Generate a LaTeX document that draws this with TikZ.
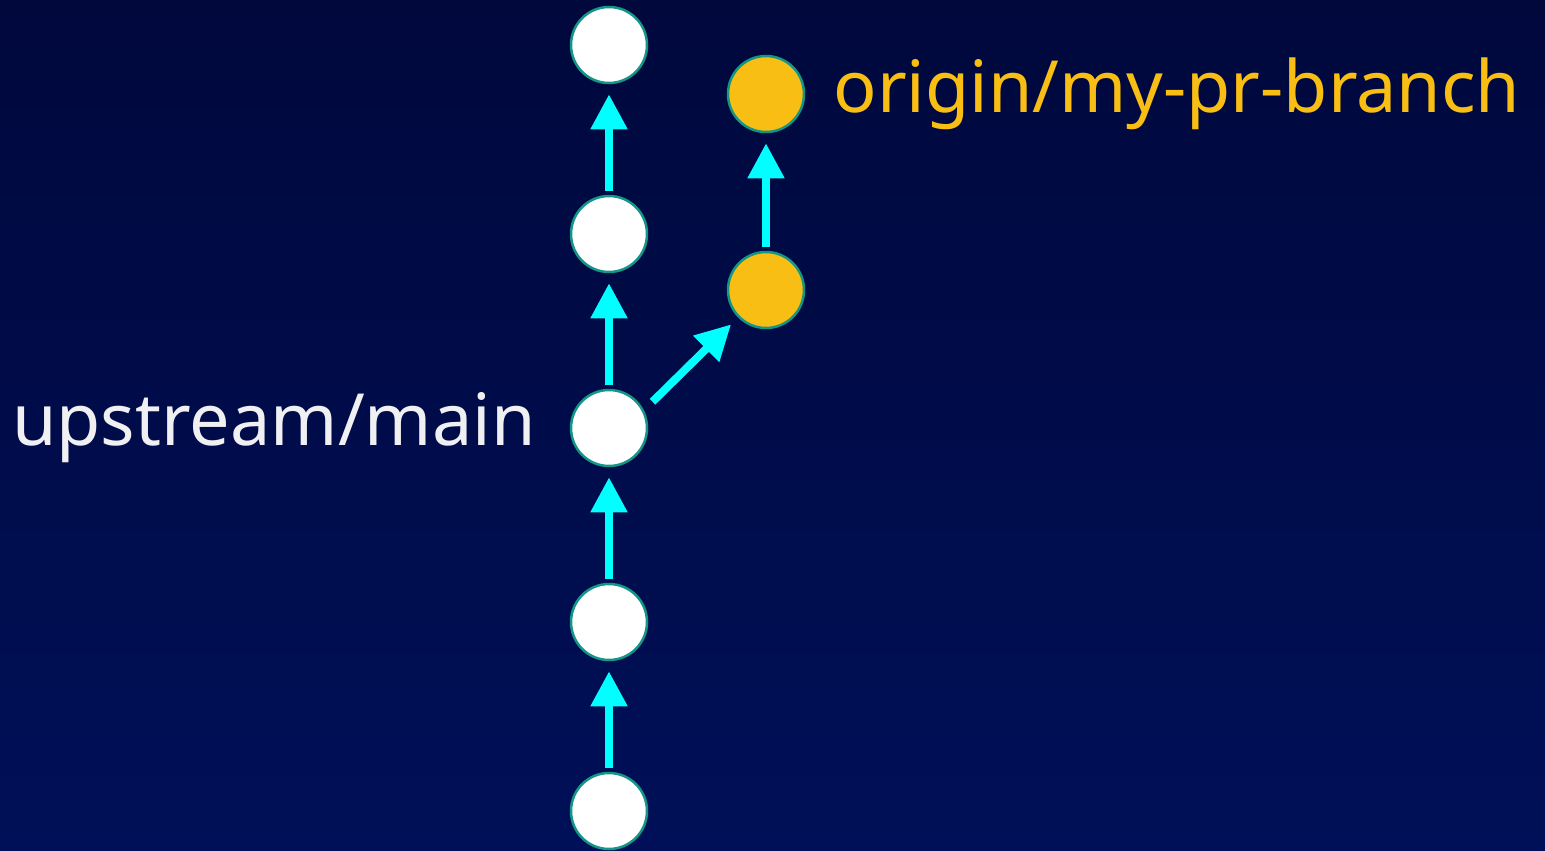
\documentclass[tikz,border=0pt]{standalone}
\usepackage{fontspec}
\setmainfont{Noto Sans}
\usepackage{tikz}
\usetikzlibrary{arrows.meta, positioning}

\definecolor{bgtop}{RGB}{0,8,60}
\definecolor{bgbottom}{RGB}{0,16,88}
\definecolor{ring}{RGB}{20,150,135}
\definecolor{commitorange}{RGB}{249,190,19}
\definecolor{arrowcyan}{RGB}{0,255,255}
\definecolor{labelwhite}{RGB}{240,240,242}

\begin{document}
\begin{tikzpicture}[x=1pt, y=-1pt,
					commit/.style={circle, draw=ring, line width=2.5pt, fill=white,
						minimum size=76pt, inner sep=0pt},
					prcommit/.style={commit, fill=commitorange},
					parent/.style={draw=arrowcyan, line width=8pt,
						-{Triangle[width=35pt, length=35pt]},
						shorten <=4pt, shorten >=10pt},
					branchlabel/.style={font=\fontsize{72}{82}\selectfont, inner sep=0pt}]

	% background
	\shade[top color=bgtop, bottom color=bgbottom] (0,0) rectangle (1545,851);
	\useasboundingbox (0,0) rectangle (1545,851);

	\node[commit] (m0) at (609,811) {};
	\node[commit] (m1) at (609,622) {};
	\node[commit] (m2) at (609,428) {};
	\node[commit] (m3) at (609,234) {};
	\node[commit] (m4) at (609,45)  {};
	\node[prcommit] (p1) at (766,290) {};
	\node[prcommit] (p2) at (766,94)  {};

	\node[branchlabel, text=labelwhite, left=34pt of m2] (upstream) {upstream/main};
	\node[branchlabel, text=commitorange, right=28pt of p2] (origin) {origin/my-pr-branch};

	\draw[parent] (m0) -- (m1);
	\draw[parent] (m1) -- (m2);
	\draw[parent] (m2) -- (m3);
	\draw[parent] (m3) -- (m4);
	% fork towards the pr branch
	\draw[parent, shorten <=12pt, shorten >=49pt] (m2.27) -- (p1.center);
	\draw[parent] (p1) -- (p2);
\end{tikzpicture}
\end{document}
